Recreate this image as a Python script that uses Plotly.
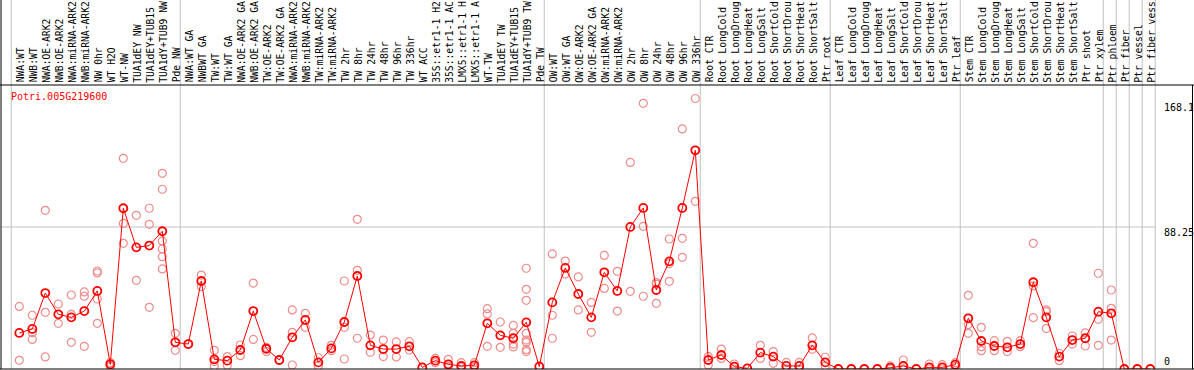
import plotly.graph_objects as go

gene_id = "Potri.005G219600"

categories = [
    "NWA:WT", "NWB:WT", "NWA:OE-ARK2", "NWB:OE-ARK2", "NWA:miRNA-ARK2", "NWB:miRNA-ARK2",
    "NW 0hr", "WT H2O", "WT-NW", "TUA1dEY NW", "TUA1dEY+TUB15", "TUA1dY+TUB9 NW", "Pde NW",
    "NWA:WT GA", "NWBWT GA", "TW:WT", "TW:WT GA", "NWA:OE-ARK2 GA", "NWB:OE-ARK2 GA",
    "TW:OE-ARK2", "TW:OE-ARK2 GA", "NWA:miRNA-ARK2", "NWB:miRNA-ARK2", "TW:miRNA-ARK2",
    "TW:miRNA-ARK2", "TW 2hr", "TW 8hr", "TW 24hr", "TW 48hr", "TW 96hr", "TW 336hr",
    "WT ACC", "35S::etr1-1 H2", "35S::etr1-1 AC", "LMX5::etr1-1 H", "LMX5::etr1-1 A",
    "WT-TW", "TUA1dEY TW", "TUA1dEY+TUB15", "TUA1dY+TUB9 TW", "Pde TW",
    "OW:WT", "OW:WT GA", "OW:OE-ARK2", "OW:OE-ARK2 GA", "OW:miRNA-ARK2", "OW:miRNA-ARK2",
    "OW 2hr", "OW 8hr", "OW 24hr", "OW 48hr", "OW 96hr", "OW 336hr",
    "Root CTR", "Root LongCold", "Root LongDroug", "Root LongHeat", "Root LongSalt",
    "Root ShortCold", "Root ShortDrou", "Root ShortHeat", "Root ShortSalt", "Ptr root",
    "Leaf CTR", "Leaf LongCold", "Leaf LongDroug", "Leaf LongHeat", "Leaf LongSalt",
    "Leaf ShortCold", "Leaf ShortDrou", "Leaf ShortHeat", "Leaf ShortSalt", "Ptr leaf",
    "Stem CTR", "Stem LongCold", "Stem LongDroug", "Stem LongHeat", "Stem LongSalt",
    "Stem ShortCold", "Stem ShortDrou", "Stem ShortHeat", "Stem ShortSalt",
    "Ptr shoot", "Ptr xylem", "Ptr phloem", "Ptr fiber", "Ptr vessel", "Ptr fiber vess",
]

mean_values = [
    22.4, 24.9, 47.2, 34.0, 32.1, 36.0, 48.5, 2.9, 99.9, 75.6, 76.7, 85.6, 16.6,
    15.5, 54.7, 6.0, 5.2, 11.8, 36.0, 12.6, 5.6, 19.7, 30.5, 4.1, 12.8, 29.2, 57.8,
    14.7, 12.4, 12.4, 14.1, 1.0, 5.2, 2.9, 1.9, 2.3, 28.4, 20.9, 19.1, 29.0, 1.5,
    41.4, 62.8, 46.6, 32.1, 60.1, 48.5, 88.3, 100.1, 49.1, 66.9, 100.1, 135.9,
    5.6, 8.7, 1.5, 0.4, 10.2, 7.7, 1.9, 1.9, 14.7, 4.1,
    0.0, 0.0, 0.0, 0.0, 0.8, 1.9, 0.0, 1.0, 1.0, 2.7,
    31.5, 17.4, 14.3, 13.5, 15.5, 53.9, 32.1, 7.7, 18.0,
    19.1, 35.6, 34.6, 0.0, 0.0, 0.0,
]

replicate_values = [
    [38.9, 5.4], [33.4, 22.6, 18.4], [98.6, 35.2, 7.5], [40.4, 28.4],
    [46.0, 34.0, 16.6], [47.9, 45.2, 14.1], [60.9, 59.7, 43.5, 28.4], [4.0, 1.5],
    [130.9, 90.5, 78.1], [95.5, 55.1], [99.9, 89.9, 38.3],
    [121.6, 111.7, 79.6, 74.6, 69.8, 62.2], [22.2, 11.6],
    [15.5], [58.4, 51.2], [11.6, 4.6, 1.9], [7.7, 2.3], [14.9, 8.3], [53.4, 18.4],
    [13.5, 10.8], [5.6], [36.7, 22.8, 2.5], [34.6, 25.9], [7.0, 1.9], [14.7, 11.4],
    [54.7, 25.9, 6.2], [93.0, 61.3, 19.1], [21.1, 10.4], [18.0, 7.7], [16.8, 7.5],
    [17.0, 11.8], [1.0], [6.6, 3.9], [6.0, 1.5], [3.9, 1.0], [3.9, 1.0],
    [37.5, 34.2, 14.1], [29.2, 13.5], [27.1, 22.2, 15.5, 13.7],
    [62.6, 49.5, 42.7, 22.2, 18.0, 16.6, 12.0, 10.8], [1.9],
    [71.5, 33.4, 19.1], [67.1, 59.0], [57.2, 36.7], [41.4, 22.8], [70.6, 50.1],
    [60.7, 36.0], [128.4, 48.3], [165.1, 88.7, 45.2], [53.7, 40.8, 52.8],
    [80.8, 65.5, 54.5], [149.2, 81.2, 69.4], [168.1, 104.2],
    [7.7, 2.5], [12.4, 6.6], [3.1, 0.0], [0.4], [14.7, 6.6], [10.8, 3.5],
    [4.1, 0.0], [4.1, 0.0], [19.3, 12.2], [7.3, 1.9],
    [0.0], [0.0], [0.0], [0.0], [1.9, 0.0], [5.6, 0.0], [0.0], [3.1, 0.0],
    [2.7, 0.0], [3.9, 1.5],
    [45.8, 27.6, 22.2], [25.9, 13.9, 11.4], [17.6, 11.4], [17.2, 10.8], [17.6, 13.9],
    [78.1, 51.6, 31.9], [36.7, 35.6, 25.1], [9.7, 5.2], [20.5, 15.5],
    [22.4, 14.3], [59.5, 30.9, 14.7], [49.1, 37.7, 18.0], [0.0], [0.0], [0.0],
]

# index of the last category in each group (group separators drawn after them)
group_ends = [-1, 12, 40, 52, 62, 72, 83, 84, 85, 86, 87]

y_ticks = [0, 88.25, 168.1]
y_max = 176.5

W, H = 1194, 370
ML, MR, MT, MB = 1, 38, 85, 1
plot_h = H - MT - MB
plot_w = W - ML - MR

x_idx = list(range(len(categories)))
rep_x = [i for i, reps in enumerate(replicate_values) for _ in reps]
rep_y = [v for reps in replicate_values for v in reps]

mono = "DejaVu Sans Mono"

fig = go.Figure()
fig.add_trace(go.Scatter(
    x=rep_x, y=rep_y, mode="markers",
    marker=dict(symbol="circle-open", size=8, color="#f08c8c", line=dict(width=1.2, color="#f08c8c")),
    hoverinfo="skip", showlegend=False,
))
fig.add_trace(go.Scatter(
    x=x_idx, y=mean_values, mode="lines+markers",
    line=dict(color="#ff0000", width=1),
    marker=dict(symbol="circle-open", size=8, color="#ff0000", line=dict(width=1.8, color="#ff0000")),
    showlegend=False,
))

shapes = []
top_paper = 1 + MT / plot_h
for g in group_ends:
    shapes.append(dict(type="line", xref="x", yref="paper", x0=g + 0.38, x1=g + 0.38,
                       y0=0, y1=top_paper, line=dict(color="#c0c0c0", width=1), layer="below"))
shapes.append(dict(type="line", xref="paper", yref="y", x0=0, x1=1, y0=y_ticks[1], y1=y_ticks[1],
                   line=dict(color="#c0c0c0", width=1), layer="below"))
# borders
x_left = -ML / plot_w
x_right = (W - ML) / plot_w
shapes.append(dict(type="line", xref="paper", yref="paper", x0=x_left, x1=x_right, y0=1, y1=1,
                   line=dict(color="black", width=1)))
shapes.append(dict(type="line", xref="paper", yref="paper", x0=x_left, x1=x_right, y0=0, y1=0,
                   line=dict(color="black", width=1)))
shapes.append(dict(type="line", xref="paper", yref="paper", x0=0, x1=0, y0=0, y1=top_paper,
                   line=dict(color="black", width=1)))
shapes.append(dict(type="line", xref="paper", yref="paper", x0=(W - 1.5 - ML) / plot_w, x1=(W - 1.5 - ML) / plot_w,
                   y0=0, y1=1, line=dict(color="black", width=1)))

annotations = []
for i, lab in enumerate(categories):
    annotations.append(dict(
        x=i, y=1 + 1.5 / plot_h, xref="x", yref="paper", text=lab, showarrow=False,
        textangle=-90, xanchor="center", yanchor="bottom", xshift=1,
        font=dict(family=mono, size=9.7, color="black"), borderpad=0,
    ))
annotations.append(dict(
    x=(9.5 - ML) / plot_w, y=1 - (97 - MT) / plot_h, xref="paper", yref="paper",
    text=gene_id, showarrow=False, xanchor="left", yanchor="middle",
    font=dict(family=mono, size=10, color="#ff0000"), borderpad=0,
))
tick_shift = {0: 7.3, 88.25: -5.7, 168.1: -8.5}
for t in y_ticks:
    annotations.append(dict(
        x=(1163 - ML) / plot_w, y=t, xref="paper", yref="y", text=f"{t:g}",
        showarrow=False, xanchor="left", yanchor="middle", yshift=tick_shift[t],
        font=dict(family=mono, size=10, color="black"), borderpad=0,
    ))

fig.update_layout(
    width=W, height=H,
    margin=dict(l=ML, r=MR, t=MT, b=MB, pad=0),
    paper_bgcolor="white", plot_bgcolor="white",
    xaxis=dict(range=[-1.408, 87.44], visible=False, fixedrange=True),
    yaxis=dict(range=[0, y_max], visible=False, fixedrange=True),
    shapes=shapes, annotations=annotations,
    showlegend=False,
)

fig.write_html(
    "out.html",
    config={"displayModeBar": False},
    post_script="document.body.style.margin='0px';document.body.style.overflow='hidden';",
)
